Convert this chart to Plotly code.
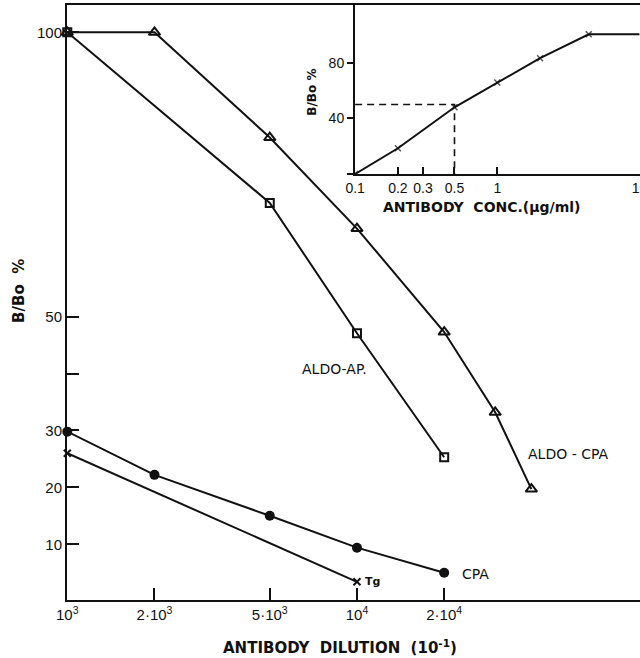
import plotly.graph_objects as go

# ---- main panel data (B/Bo % vs antibody dilution) ----
dil_aldo_cpa = [1e3, 2e3, 5e3, 1e4, 2e4, 3e4, 4e4]
bbo_aldo_cpa = [100, 100, 81.5, 65.5, 47.3, 33.2, 19.7]
dil_aldo_ap = [1e3, 5e3, 1e4, 2e4]
bbo_aldo_ap = [100, 70, 47.1, 25.3]
dil_cpa = [1e3, 2e3, 5e3, 1e4, 2e4]
bbo_cpa = [29.8, 22.2, 15.0, 9.4, 5.0]
dil_tg = [1e3, 1e4]
bbo_tg = [26, 3.4]

x_tickvals = [1e3, 2e3, 5e3, 1e4, 2e4]
x_ticktext = ["10<sup>3</sup>", "2·10<sup>3</sup>", "5·10<sup>3</sup>", "10<sup>4</sup>", "2·10<sup>4</sup>"]
y_tickvals = [10, 20, 30, 40, 50, 100]
y_ticktext = ["10", "20", "30", "", "50", "100"]

# ---- inset data (B/Bo % vs antibody concentration) ----
conc = [0.1, 0.2, 0.5, 1, 2, 4.4, 10]
bbo_conc = [0, 18.5, 48, 65.8, 83.3, 100.5, 100.5]
dash_x = [0.1, 0.5, 0.5]
dash_y = [50, 50, 0]
inset_xticks = [0.1, 0.2, 0.3, 0.5, 1, 10]
inset_xtext = ["0.1", "0.2", "0.3", "0.5", "1", "10"]
inset_yticks = [0, 40, 80]
inset_ytext = ["", "40", "80"]

BLACK = "#111111"
line = dict(color=BLACK, width=2)

fig = go.Figure()
fig.add_trace(go.Scatter(x=dil_aldo_cpa, y=bbo_aldo_cpa, mode="lines+markers", line=line,
                         marker=dict(symbol="triangle-up-open", size=10, color=BLACK, line=dict(width=2, color=BLACK)),
                         cliponaxis=False))
fig.add_trace(go.Scatter(x=dil_aldo_ap, y=bbo_aldo_ap, mode="lines+markers", line=line,
                         marker=dict(symbol="square-open", size=8, color=BLACK, line=dict(width=2, color=BLACK)),
                         cliponaxis=False))
fig.add_trace(go.Scatter(x=dil_cpa, y=bbo_cpa, mode="lines+markers", line=line,
                         marker=dict(symbol="circle", size=10, color=BLACK), cliponaxis=False))
fig.add_trace(go.Scatter(x=dil_tg, y=bbo_tg, mode="lines+markers", line=line,
                         marker=dict(symbol="x-thin-open", size=7, color=BLACK, line=dict(width=2, color=BLACK)),
                         cliponaxis=False))

# inset
fig.add_trace(go.Scatter(x=dash_x, y=dash_y, mode="lines", xaxis="x2", yaxis="y2",
                         line=dict(color=BLACK, width=1.6, dash="7px,5px")))
fig.add_trace(go.Scatter(x=conc, y=bbo_conc, mode="lines+markers", xaxis="x2", yaxis="y2",
                         line=line,
                         marker=dict(symbol="x-thin-open", size=[6] * (len(conc) - 1) + [0], color=BLACK,
                                     line=dict(width=1.5, color=BLACK))))

tickfont = dict(family="Liberation Sans, Arial, sans-serif", size=15, color=BLACK)
fig.update_layout(
    width=640, height=658,
    margin=dict(l=67, r=0, t=5, b=58, autoexpand=False),
    paper_bgcolor="white", plot_bgcolor="white",
    showlegend=False,
    xaxis=dict(type="log", range=[2.999, 4.977], domain=[0, 1], automargin=False,
               tickvals=x_tickvals, ticktext=x_ticktext, tickfont=tickfont,
               ticks="inside", ticklen=12, tickwidth=2, tickcolor=BLACK,
               showline=True, linecolor=BLACK, linewidth=2, mirror=True,
               showgrid=False, zeroline=False),
    yaxis=dict(range=[0.2, 104.8], domain=[0, 1], automargin=False,
               tickvals=y_tickvals, ticktext=y_ticktext, tickfont=tickfont,
               ticks="inside", ticklen=12, tickwidth=2, tickcolor=BLACK,
               showline=True, linecolor=BLACK, linewidth=2,
               showgrid=False, zeroline=False),
    xaxis2=dict(type="log", range=[-1.001, 1.004], domain=[0.5026, 1], anchor="y2", automargin=False,
                tickvals=inset_xticks, ticktext=inset_xtext, tickfont=dict(tickfont, size=14),
                ticks="inside", ticklen=7, tickwidth=2, tickcolor=BLACK,
                ticklabeloverflow="allow",
                showline=True, linecolor=BLACK, linewidth=2,
                showgrid=False, zeroline=False),
    yaxis2=dict(range=[0, 121.6], domain=[0.716, 1], anchor="x2", automargin=False,
                tickvals=inset_yticks, ticktext=inset_ytext, tickfont=dict(tickfont, size=14),
                ticks="outside", ticklen=6, tickwidth=2, tickcolor=BLACK,
                showline=True, linecolor=BLACK, linewidth=2,
                showgrid=False, zeroline=False),
)

titlefont = dict(family="DejaVu Sans, sans-serif", size=15, color=BLACK, weight="bold")
labelfont = dict(family="DejaVu Sans, sans-serif", size=14, color=BLACK)
annos = [
    dict(text="ANTIBODY  DILUTION  (10<sup>-1</sup>)", xref="paper", yref="paper", x=0.477, y=-0.079,
         showarrow=False, font=titlefont, xanchor="center", yanchor="middle"),
    dict(text="B/Bo  %", xref="paper", yref="paper", x=-0.085, y=0.52, textangle=-90,
         showarrow=False, font=dict(titlefont, size=15), xanchor="center", yanchor="middle"),
    dict(text="ANTIBODY  CONC.(µg/ml)", xref="paper", yref="paper", x=0.723, y=0.661,
         showarrow=False, font=dict(titlefont, size=14), xanchor="center", yanchor="middle"),
    dict(text="B/Bo %", xref="paper", yref="paper", x=0.428, y=0.853, textangle=-90,
         showarrow=False, font=dict(titlefont, size=12), xanchor="center", yanchor="middle"),
    dict(text="ALDO-AP.", xref="x", yref="y", x=3.924, y=40.8,
         showarrow=False, font=labelfont, xanchor="center", yanchor="middle"),
    dict(text="ALDO - CPA", xref="x", yref="y", x=4.728, y=25.9,
         showarrow=False, font=labelfont, xanchor="center", yanchor="middle"),
    dict(text="CPA", xref="x", yref="y", x=4.41, y=4.8,
         showarrow=False, font=labelfont, xanchor="center", yanchor="middle"),
    dict(text="Tg", xref="x", yref="y", x=4.052, y=3.4,
         showarrow=False, font=dict(labelfont, size=11, weight="bold"), xanchor="center", yanchor="middle"),
]
fig.update_layout(annotations=annos)

fig.write_html("out.html", config={"displayModeBar": False},
               post_script="document.body.style.margin='0';document.body.style.overflow='hidden';")
